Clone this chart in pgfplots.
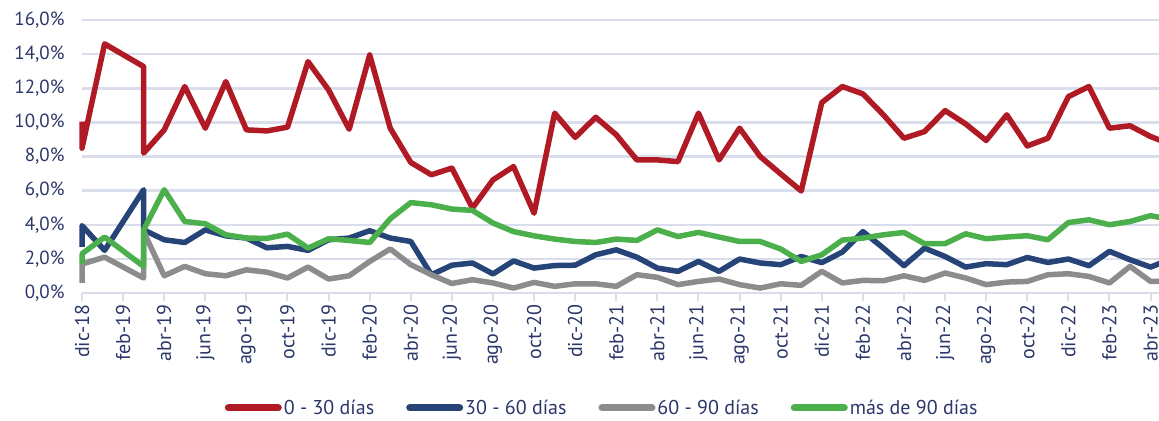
\documentclass[border=0pt]{standalone}
\usepackage{pgfplots}
\pgfplotsset{compat=1.18}
\usepackage{fontspec}
\setmainfont{PT Sans}

\definecolor{rojo}{RGB}{175,26,36}
\definecolor{azul}{RGB}{38,68,120}
\definecolor{gris}{RGB}{140,140,140}
\definecolor{verde}{RGB}{75,175,75}
\definecolor{gridc}{RGB}{218,221,236}
\definecolor{txt}{RGB}{44,55,105}

\begin{document}
\begin{tikzpicture}
\begin{axis}[
    name=ax,
    scale only axis,
    width=1077pt, height=273pt,
    xmin=0, xmax=52.41, ymin=0, ymax=16,
    clip=false,
    axis x line*=bottom, axis y line*=left,
    x axis line style={gridc, line width=2pt},
    y axis line style={draw=none},
    ymajorgrids, grid style={gridc, line width=2.5pt},
    tick align=outside, major tick length=8pt,
    xtick style={gridc, line width=2pt},
    ytick style={draw=none},
    xtick={0,2,...,52},
    xticklabels={dic-18,feb-19,abr-19,jun-19,ago-19,oct-19,dic-19,feb-20,abr-20,jun-20,ago-20,oct-20,dic-20,feb-21,abr-21,jun-21,ago-21,oct-21,dic-21,feb-22,abr-22,jun-22,ago-22,oct-22,dic-22,feb-23,abr-23},
    ytick={0,2,...,16},
    yticklabels={{0,0\%},{2,0\%},{4,0\%},{6,0\%},{8,0\%},{10,0\%},{12,0\%},{14,0\%},{16,0\%}},
    xticklabel style={rotate=90, anchor=east, font=\fontsize{20}{22}\selectfont, text=txt},
    yticklabel style={xshift=-6pt, font=\fontsize{19}{21}\selectfont, text=txt},
    every axis plot/.append style={line width=5.5pt, line join=round},
    legend style={at={(0.483,-0.421)}, anchor=center, draw=none, fill=none,
        font=\fontsize{20}{22}\selectfont, text=txt,
        /tikz/every even column/.append style={column sep=30pt}},
    legend columns=4,
    legend image code/.code={\draw[#1, line width=7pt, line cap=round] (0pt,0pt) -- (50pt,0pt);},
]
\addplot[rojo] coordinates {
(0,10.05)(0,8.49)(1.1,14.6)(3,13.27)(3,8.2)(4,9.56)(5,12.1)(6,9.66)(7,12.39)(8,9.56)
(9,9.5)(10,9.72)(11,13.56)(12,11.9)(13,9.6)(14,13.95)(15,9.66)(16,7.65)(17,6.93)(18,7.32)
(19,4.98)(20,6.63)(21,7.41)(22,4.68)(23,10.54)(24,9.12)(25,10.3)(26,9.27)(27,7.8)(28,7.8)
(29,7.7)(30,10.54)(31,7.8)(32,9.66)(33,8.0)(34,6.98)(35,5.98)(36,11.16)(37,12.1)(38,11.67)
(39,10.44)(40,9.07)(41,9.46)(42,10.69)(43,9.91)(44,8.94)(45,10.44)(46,8.62)(47,9.07)(48,11.51)
(49,12.1)(50,9.66)(51,9.8)(52,9.17)(53,8.7)
};
\addlegendentry{0 - 30 días}
\addplot[azul] coordinates {
(0,2.7)(0,3.95)(1.1,2.5)(3,6.05)(3,3.7)(4,3.12)(5,2.96)(6,3.7)(7,3.35)(8,3.22)
(9,2.65)(10,2.73)(11,2.5)(12,3.12)(13,3.22)(14,3.65)(15,3.22)(16,3.02)(17,1.07)(18,1.63)
(19,1.76)(20,1.12)(21,1.88)(22,1.46)(23,1.61)(24,1.63)(25,2.24)(26,2.53)(27,2.1)(28,1.46)
(29,1.27)(30,1.85)(31,1.27)(32,1.99)(33,1.76)(34,1.66)(35,2.14)(36,1.78)(37,2.4)(38,3.6)
(39,2.63)(40,1.6)(41,2.63)(42,2.14)(43,1.52)(44,1.72)(45,1.66)(46,2.08)(47,1.79)(48,1.99)
(49,1.6)(50,2.44)(51,1.95)(52,1.52)(53,2.0)
};
\addlegendentry{30 - 60 días}
\addplot[gris] coordinates {
(0,0.6)(0,1.7)(1.1,2.1)(3,0.88)(3,3.6)(4,1.01)(5,1.56)(6,1.13)(7,1.01)(8,1.36)
(9,1.22)(10,0.88)(11,1.52)(12,0.82)(13,1.01)(14,1.85)(15,2.58)(16,1.66)(17,1.07)(18,0.56)
(19,0.78)(20,0.59)(21,0.29)(22,0.62)(23,0.39)(24,0.54)(25,0.54)(26,0.39)(27,1.07)(28,0.92)
(29,0.49)(30,0.68)(31,0.82)(32,0.49)(33,0.29)(34,0.54)(35,0.45)(36,1.27)(37,0.59)(38,0.74)
(39,0.72)(40,1.01)(41,0.74)(42,1.17)(43,0.88)(44,0.49)(45,0.64)(46,0.68)(47,1.07)(48,1.13)
(49,0.97)(50,0.59)(51,1.56)(52,0.68)(53,0.7)
};
\addlegendentry{60 - 90 días}
\addplot[verde] coordinates {
(0,1.7)(0,2.3)(1.1,3.28)(3,1.56)(3,3.7)(4,6.05)(5,4.19)(6,4.06)(7,3.41)(8,3.22)
(9,3.2)(10,3.45)(11,2.63)(12,3.18)(13,3.08)(14,2.96)(15,4.35)(16,5.3)(17,5.17)(18,4.92)
(19,4.84)(20,4.1)(21,3.6)(22,3.35)(23,3.16)(24,3.02)(25,2.96)(26,3.16)(27,3.08)(28,3.7)
(29,3.31)(30,3.55)(31,3.28)(32,3.02)(33,3.02)(34,2.58)(35,1.85)(36,2.24)(37,3.1)(38,3.22)
(39,3.41)(40,3.55)(41,2.89)(42,2.89)(43,3.47)(44,3.18)(45,3.28)(46,3.36)(47,3.12)(48,4.13)
(49,4.29)(50,4.0)(51,4.19)(52,4.53)(53,4.3)
};
\addlegendentry{más de 90 días}
\end{axis}
\pgfresetboundingbox
\path[use as bounding box] ([shift={(-82pt,-127pt)}]ax.south west) rectangle ([shift={(0pt,20pt)}]ax.north east);
\end{tikzpicture}
\end{document}
